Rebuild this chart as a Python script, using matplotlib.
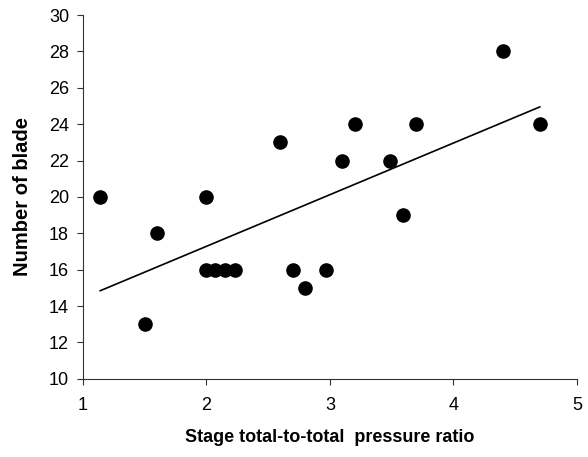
import matplotlib.pyplot as plt
import numpy as np

plt.rcParams['font.family'] = ['Liberation Sans', 'DejaVu Sans']

ratio = [1.14, 1.50, 1.60, 2.00, 2.00, 2.07, 2.15, 2.23, 2.60, 2.70, 2.80, 2.97,
         3.10, 3.20, 3.49, 3.59, 3.70, 4.40, 4.70]
blades = [20, 13, 18, 20, 16, 16, 16, 16, 23, 16, 15, 16,
          22, 24, 22, 19, 24, 28, 24]

x = np.array(ratio)
y = np.array(blades)
slope, icpt = np.polyfit(x, y, 1)

fig = plt.figure(figsize=(5.88, 4.57), dpi=100)
ax = fig.add_axes([0.141, 0.171, 0.84, 0.796])

xs = np.array([x.min(), x.max()])
ax.plot(xs, slope * xs + icpt, color='black', lw=1.2)
ax.scatter(x, y, s=90, color='black', zorder=3)

ax.set_xlim(1, 5)
ax.set_ylim(10, 30)
ax.set_xticks([1, 2, 3, 4, 5])
ax.set_yticks(range(10, 31, 2))
for s in ['top', 'right']:
    ax.spines[s].set_visible(False)
ax.tick_params(labelsize=13, length=4, color='#333333')
ax.tick_params(axis='x', pad=9)
ax.tick_params(axis='y', pad=6)
ax.spines['left'].set_color('#333333')
ax.spines['bottom'].set_color('#333333')

ax.set_xlabel('Stage total-to-total  pressure ratio', fontsize=13, fontweight='bold', labelpad=11)
ax.set_ylabel('Number of blade', fontsize=14.5, fontweight='bold', labelpad=12)

fig.savefig('out.png', dpi=100)
